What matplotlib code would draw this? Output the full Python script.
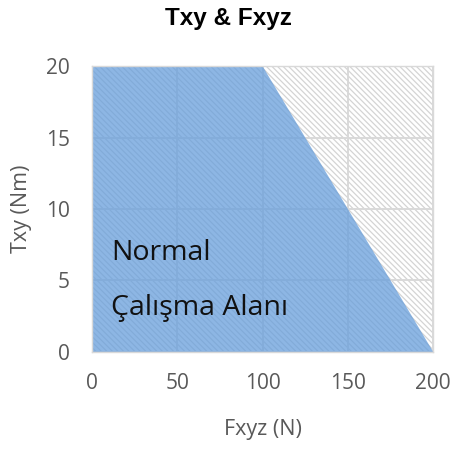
import matplotlib
matplotlib.use("Agg")
import matplotlib.pyplot as plt

# Data
region_x = [0, 0, 100, 200]
region_y = [0, 20, 20, 0]
x_ticks = [0, 50, 100, 150, 200]
y_ticks = [0, 5, 10, 15, 20]
title = "Txy & Fxyz"
x_label = "Fxyz (N)"
y_label = "Txy (Nm)"
label_lines = ["Normal", "Çalışma Alanı"]

plt.rcParams['font.family'] = ['Open Sans', 'DejaVu Sans']
plt.rcParams['hatch.linewidth'] = 0.9

fig = plt.figure(figsize=(4.57, 4.5), dpi=100)
ax = fig.add_axes([0.201, 0.218, 0.747, 0.635])

ax.set_xlim(0, 200)
ax.set_ylim(0, 20)

# background hatch of the plot area
ax.fill([0, 0, 200, 200], [0, 20, 20, 0], facecolor='white', hatch='\\\\\\\\\\\\',
        edgecolor='#D4D4D4', linewidth=0, zorder=0)

ax.set_xticks(x_ticks)
ax.set_yticks(y_ticks)
ax.set_axisbelow(True)
ax.grid(True, color='#D9D9D9', linewidth=1.4)

# blue region (semi-transparent over hatch and grid)
ax.fill(region_x, region_y, facecolor='#679EDB', alpha=0.75, linewidth=0, zorder=1)

ax.tick_params(length=0, labelsize=15, labelcolor='#595959')
ax.tick_params(axis='x', pad=15)
ax.tick_params(axis='y', pad=16)
for s in ax.spines.values():
    s.set_color('#D9D9D9')
    s.set_linewidth(1.0)
    s.set_zorder(2)

ax.set_xlabel(x_label, fontsize=15.5, color='#595959', labelpad=18)
ax.set_ylabel(y_label, fontsize=15.5, color='#595959', labelpad=10)
fig.suptitle(title, fontsize=17.5, fontweight='bold', family=['Liberation Sans', 'DejaVu Sans'],
             x=0.5, y=0.985)

ax.text(11.5, 6.9, label_lines[0], fontsize=20.5, color='#111111', va='center', zorder=3)
ax.text(11.5, 3.1, label_lines[1], fontsize=20.5, color='#111111', va='center', zorder=3)

fig.savefig("out.png", dpi=100)
